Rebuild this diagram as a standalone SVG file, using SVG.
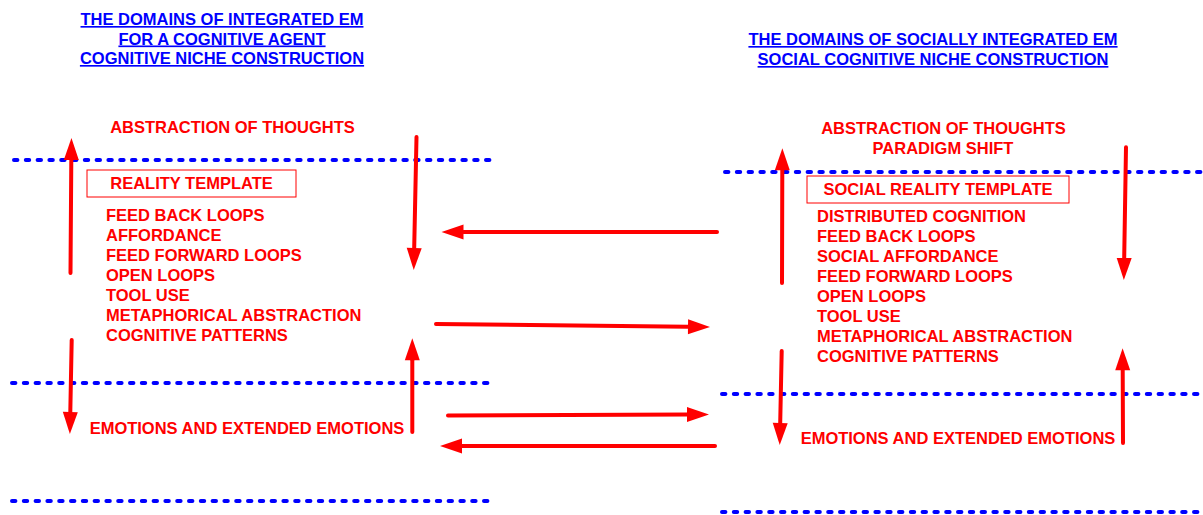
<svg xmlns="http://www.w3.org/2000/svg" width="1203" height="515" viewBox="0 0 1203 515">
  <style>
    text { font-family: "Liberation Sans", Arial, sans-serif; font-weight: bold; font-size: 16.5px; }
    .title { fill: #0000ff; text-decoration: underline; text-anchor: middle; }
    .lbl { fill: #ff0000; }
    .mid { text-anchor: middle; }
    .frame { fill: none; stroke: #ff0000; stroke-width: 1; }
    .level { fill: none; stroke: #0000ff; stroke-width: 4; stroke-dasharray: 3.4 8.4; stroke-linecap: round; }
    .arrow { fill: none; stroke: #ff0000; stroke-width: 4; stroke-linecap: round; marker-end: url(#head); }
  </style>
  <defs>
    <marker id="head" markerUnits="userSpaceOnUse" markerWidth="22" markerHeight="15" refX="0" refY="7.5" orient="auto" overflow="visible">
      <path d="M0,0 L22,7.5 L0,15 Z" fill="#ff0000"/>
    </marker>
  </defs>
  <rect width="1203" height="515" fill="#ffffff"/>

  <!-- headings -->
  <g id="title-left">
    <text class="title" x="222" y="25">THE DOMAINS OF INTEGRATED EM</text>
    <text class="title" x="222" y="44.5">FOR A COGNITIVE AGENT</text>
    <text class="title" x="222" y="64">COGNITIVE NICHE CONSTRUCTION</text>
  </g>
  <g id="title-right">
    <text class="title" x="933" y="45">THE DOMAINS OF SOCIALLY INTEGRATED EM</text>
    <text class="title" x="933" y="65">SOCIAL COGNITIVE NICHE CONSTRUCTION</text>
  </g>

  <!-- level boundaries -->
  <g id="levels">
    <line class="level" x1="14" y1="160" x2="494" y2="160"/>
    <line class="level" x1="12" y1="383" x2="494" y2="383"/>
    <line class="level" x1="12" y1="501" x2="494" y2="501"/>
    <line class="level" x1="725" y1="172" x2="1203" y2="172"/>
    <line class="level" x1="722" y1="394" x2="1203" y2="394"/>
    <line class="level" x1="722" y1="512" x2="1203" y2="512"/>
  </g>

  <!-- individual agent -->
  <g id="abstraction-left">
    <text class="lbl mid" x="232.5" y="133">ABSTRACTION OF THOUGHTS</text>
  </g>
  <g id="reality-template">
    <rect class="frame" x="87" y="170" width="209" height="27"/>
    <text class="lbl mid" x="191.5" y="189">REALITY TEMPLATE</text>
  </g>
  <g id="reality-list">
    <text class="lbl" x="106" y="221">FEED BACK LOOPS</text>
    <text class="lbl" x="106" y="241">AFFORDANCE</text>
    <text class="lbl" x="106" y="261">FEED FORWARD LOOPS</text>
    <text class="lbl" x="106" y="281">OPEN LOOPS</text>
    <text class="lbl" x="106" y="301">TOOL USE</text>
    <text class="lbl" x="106" y="321">METAPHORICAL ABSTRACTION</text>
    <text class="lbl" x="106" y="341">COGNITIVE PATTERNS</text>
  </g>
  <g id="emotions-left">
    <text class="lbl mid" x="247" y="434">EMOTIONS AND EXTENDED EMOTIONS</text>
  </g>

  <!-- social agent -->
  <g id="abstraction-right">
    <text class="lbl mid" x="943.5" y="134">ABSTRACTION OF THOUGHTS</text>
    <text class="lbl mid" x="943" y="154">PARADIGM SHIFT</text>
  </g>
  <g id="social-reality-template">
    <rect class="frame" x="807" y="176" width="262" height="27"/>
    <text class="lbl mid" x="938" y="195">SOCIAL REALITY TEMPLATE</text>
  </g>
  <g id="social-reality-list">
    <text class="lbl" x="817" y="222">DISTRIBUTED COGNITION</text>
    <text class="lbl" x="817" y="242">FEED BACK LOOPS</text>
    <text class="lbl" x="817" y="262">SOCIAL AFFORDANCE</text>
    <text class="lbl" x="817" y="282">FEED FORWARD LOOPS</text>
    <text class="lbl" x="817" y="302">OPEN LOOPS</text>
    <text class="lbl" x="817" y="322">TOOL USE</text>
    <text class="lbl" x="817" y="342">METAPHORICAL ABSTRACTION</text>
    <text class="lbl" x="817" y="362">COGNITIVE PATTERNS</text>
  </g>
  <g id="emotions-right">
    <text class="lbl mid" x="958" y="444">EMOTIONS AND EXTENDED EMOTIONS</text>
  </g>

  <!-- connectors -->
  <g id="connectors">
    <line class="arrow" x1="70.5" y1="273" x2="71.3" y2="160"/>
    <line class="arrow" x1="416.5" y1="137" x2="414.2" y2="248"/>
    <line class="arrow" x1="717" y1="232" x2="463.5" y2="232"/>
    <line class="arrow" x1="436" y1="324" x2="688" y2="326.8"/>
    <line class="arrow" x1="71.7" y1="340" x2="70.3" y2="412"/>
    <line class="arrow" x1="412.3" y1="432" x2="412.3" y2="360.3"/>
    <line class="arrow" x1="448" y1="415.5" x2="687" y2="414.6"/>
    <line class="arrow" x1="715" y1="446" x2="462" y2="446"/>
    <line class="arrow" x1="782" y1="283" x2="782.3" y2="170.3"/>
    <line class="arrow" x1="1126" y1="147.3" x2="1124.2" y2="258"/>
    <line class="arrow" x1="781.7" y1="351" x2="780.2" y2="423"/>
    <line class="arrow" x1="1123" y1="443" x2="1122.7" y2="370.3"/>
  </g>
</svg>
